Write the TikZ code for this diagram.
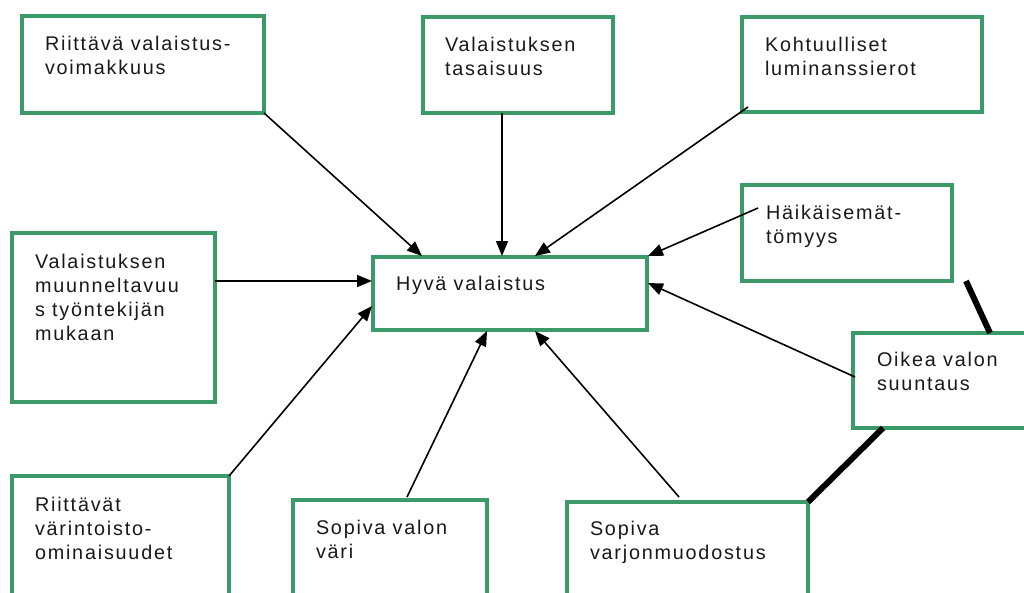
\documentclass[tikz,border=0pt]{standalone}
\usepackage{fontspec}
\setmainfont{Liberation Sans}[LetterSpace=9]
\usetikzlibrary{arrows.meta}
\definecolor{boxgreen}{RGB}{58,155,105}
\definecolor{txtgray}{RGB}{25,25,25}
\begin{document}
\begin{tikzpicture}[x=1pt,y=-1pt,
  box/.style={draw=boxgreen, line width=3.5pt, anchor=north west, inner sep=0pt, outer sep=0pt, fill=white},
  txt/.style={anchor=north west, inner sep=0pt, outer sep=0pt, align=left, text=txtgray,
    font=\fontsize{19.8}{24}\selectfont},
  arr/.style={line width=1.6pt, -{Triangle[length=15pt,width=12pt]}},
  heavy/.style={line width=6pt}]
\useasboundingbox[fill=white] (0,0) rectangle (1024,592);
% boxes
\node[box, minimum width=242pt, minimum height=97pt] (a) at (22,16) {};
\node[box, minimum width=190pt, minimum height=96pt] (b) at (423,17) {};
\node[box, minimum width=240pt, minimum height=95pt] (c) at (742,17) {};
\node[box, minimum width=210pt, minimum height=96pt] (d) at (742,185) {};
\node[box, minimum width=203pt, minimum height=169pt] (e) at (12,233) {};
\node[box, minimum width=274pt, minimum height=73pt] (f) at (373,257) {};
\node[box, minimum width=217pt, minimum height=150pt] (g) at (12,476) {};
\node[box, minimum width=194pt, minimum height=150pt] (h) at (293,500) {};
\node[box, minimum width=241pt, minimum height=150pt] (i) at (567,502) {};
\node[box, minimum width=200pt, minimum height=95pt] (j) at (853,333) {};
% texts
\node[txt] (ta) at ([shift={(23,18)}]a.north west) {\rule{0pt}{16pt}Riittävä valaistus-\\voimakkuus};
\node[txt] (tb) at ([shift={(22,18)}]b.north west) {\rule{0pt}{16pt}Valaistuksen\\tasaisuus};
\node[txt] (tc) at ([shift={(23,18)}]c.north west) {\rule{0pt}{16pt}Kohtuulliset\\luminanssierot};
\node[txt] (td) at ([shift={(24,18)}]d.north west) {\rule{0pt}{16pt}Häikäisemät-\\tömyys};
\node[txt] (te) at ([shift={(23,19)}]e.north west) {\rule{0pt}{16pt}Valaistuksen\\muunneltavuu\\s työntekijän\\mukaan};
\node[txt] (tf) at ([shift={(23,17)}]f.north west) {\rule{0pt}{16pt}Hyvä valaistus};
\node[txt] (tg) at ([shift={(23,19)}]g.north west) {\rule{0pt}{16pt}Riittävät\\värintoisto-\\ominaisuudet};
\node[txt] (th) at ([shift={(23,18)}]h.north west) {\rule{0pt}{16pt}Sopiva valon\\väri};
\node[txt] (ti) at ([shift={(23,17)}]i.north west) {\rule{0pt}{16pt}Sopiva\\varjonmuodostus};
\node[txt] (tj) at ([shift={(24,17)}]j.north west) {\rule{0pt}{16pt}Oikea valon\\suuntaus};
% attachment points
\coordinate (fa) at ([shift={(49,-1)}]f.north west);
\coordinate (bs) at ([shift={(79,0)}]b.south west);
\coordinate (fb) at ([shift={(129,-1)}]f.north west);
\coordinate (cs) at ([shift={(6,-5)}]c.south west);
\coordinate (fc) at ([shift={(162,-1)}]f.north west);
\coordinate (ds) at ([shift={(16,23)}]d.north west);
\coordinate (fd) at ([shift={(1,-1)}]f.north east);
\coordinate (es) at ([shift={(0,48)}]e.north east);
\coordinate (fe) at ([shift={(-1,24)}]f.north west);
\coordinate (fg) at ([shift={(-1,49)}]f.north west);
\coordinate (hs) at ([shift={(114,-3)}]h.north west);
\coordinate (fh) at ([shift={(114,1)}]f.south west);
\coordinate (is) at ([shift={(112,-5)}]i.north west);
\coordinate (fi) at ([shift={(162,1)}]f.south west);
\coordinate (js) at ([shift={(2,44)}]j.north west);
\coordinate (fj) at ([shift={(1,26)}]f.north east);
\coordinate (k1) at ([shift={(14,0)}]d.south east);
\coordinate (k2) at ([shift={(137,0)}]j.north west);
\coordinate (k3) at ([shift={(30,0)}]j.south west);
% arrows
\draw[arr] (a.south east) -- (fa);
\draw[arr] (bs) -- (fb);
\draw[arr] (cs) -- (fc);
\draw[arr] (ds) -- (fd);
\draw[arr] (es) -- (fe);
\draw[arr] (g.north east) -- (fg);
\draw[arr] (hs) -- (fh);
\draw[arr] (is) -- (fi);
\draw[arr] (js) -- (fj);
% heavy lines
\draw[heavy] (k1) -- (k2);
\draw[heavy] (k3) -- (i.north east);
\end{tikzpicture}
\end{document}
